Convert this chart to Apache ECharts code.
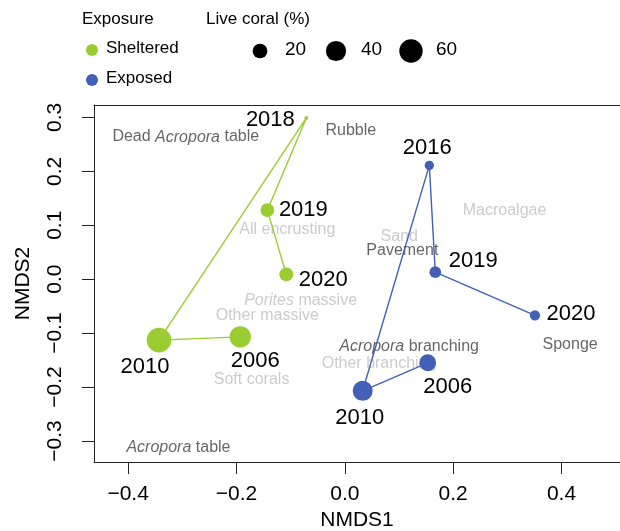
<!DOCTYPE html>
<html><head><meta charset="utf-8">
<script src="https://cdn.jsdelivr.net/npm/echarts@6/dist/echarts.min.js"></script>
<style>html,body{margin:0;padding:0;background:#fff}#c{width:620px;height:531px}</style>
</head><body><div id="c"></div>
<script>
// ---- data ----
const yearsSheltered = ['2006', '2010', '2018', '2019', '2020'];
const nmds1Sheltered = [-0.193, -0.343, -0.071, -0.143, -0.108];
const nmds2Sheltered = [-0.107, -0.113, 0.299, 0.128, 0.009];
const coralSheltered = [46, 71, 5, 17.5, 18];

const yearsExposed = ['2006', '2010', '2016', '2019', '2020'];
const nmds1Exposed = [0.153, 0.033, 0.156, 0.167, 0.351];
const nmds2Exposed = [-0.155, -0.207, 0.211, 0.013, -0.067];
const coralExposed = [26, 39, 10, 13.6, 11.4];

const speciesNames = ['Dead {i|Acropora} table', 'Rubble', 'All encrusting', 'Macroalgae', 'Sand', 'Pavement',
  '{i|Porites} massive', 'Other massive', 'Soft corals', '{i|Acropora} table', '{i|Acropora} branching',
  'Other branching', 'Sponge'];
const speciesX = [-0.2936, 0.0111, -0.1062, 0.2949, 0.1006, 0.1062, -0.0816, -0.1431, -0.1721, -0.3071, 0.1187, 0.0632, 0.4159];
const speciesY = [0.2635, 0.2759, 0.0926, 0.1278, 0.0783, 0.0537, -0.0389, -0.0667, -0.187, -0.3117, -0.1254, -0.1561, -0.1209];
const speciesSignificant = [true, true, false, false, false, true, false, false, false, true, true, false, true];

const xTicks = [-0.4, -0.2, 0.0, 0.2, 0.4];
const yTicks = [-0.3, -0.2, -0.1, 0.0, 0.1, 0.2, 0.3];
const sizeLegendValues = [20, 40, 60];
const exposureNames = ['Sheltered', 'Exposed'];

// ---- styles ----
const colSheltered = '#9ACD32';
const colExposed = '#4261B6';
const offsetsSheltered = [[15, 24], [-14, 27], [-36, 2], [36, 0], [37, 6]];
const offsetsExposed = [[20, 24], [-3, 27], [-2, -17], [38, -11], [36, -1]];
function sizeOf(p) { return Math.max(3, -8.9 + 7.89 * Math.log(p)); }
function fmtTick(v) { return (v < 0 ? '\u2212' : '') + Math.abs(v).toFixed(1); }
const font = 'Liberation Sans, Arial, sans-serif';

function makeSeries(name, xs, ys, cs, yrs, col, offs) {
  return {
    type: 'line', name: name, symbol: 'circle', showSymbol: true, animation: false,
    lineStyle: { color: col, width: 1.4 }, itemStyle: { color: col },
    data: xs.map((x, i) => ({
      value: [x, ys[i], cs[i]], symbolSize: sizeOf(cs[i]),
      label: { show: true, position: 'inside', offset: offs[i], formatter: yrs[i],
        fontSize: 22, color: '#000', fontFamily: font, align: 'center', verticalAlign: 'middle' }
    })),
    z: 3
  };
}

const speciesSeries = {
  type: 'scatter', symbolSize: 0, silent: true, animation: false, z: 2,
  data: speciesX.map((x, i) => {
    const c = speciesSignificant[i] ? '#3F3F3F' : '#BEBEBE';
    return {
      value: [x, speciesY[i]],
      label: { show: true, position: 'inside', formatter: speciesNames[i], color: c, fontSize: 16,
        fontFamily: font, align: 'center', verticalAlign: 'middle',
        rich: { i: { fontStyle: 'italic', color: c, fontSize: 16, fontFamily: font } } }
    };
  })
};

const legendGraphics = [
  { type: 'text', left: 82, top: 11, style: { text: 'Exposure', font: '17px ' + font, fill: '#000' } },
  { type: 'circle', shape: { cx: 92, cy: 50, r: 6 }, style: { fill: colSheltered } },
  { type: 'text', left: 106, top: 40, style: { text: exposureNames[0], font: '17px ' + font, fill: '#000' } },
  { type: 'circle', shape: { cx: 92, cy: 80, r: 6 }, style: { fill: colExposed } },
  { type: 'text', left: 106, top: 70, style: { text: exposureNames[1], font: '17px ' + font, fill: '#000' } },
  { type: 'text', left: 206, top: 11, style: { text: 'Live coral (%)', font: '17px ' + font, fill: '#000' } }
];
const sizeCenters = [260, 336, 411];
sizeLegendValues.forEach((v, i) => {
  legendGraphics.push({ type: 'circle', shape: { cx: sizeCenters[i], cy: 51, r: sizeOf(v) / 2 }, style: { fill: '#000' } });
  legendGraphics.push({ type: 'text', left: sizeCenters[i] + 25, top: 40, style: { text: String(v), font: '19px ' + font, fill: '#000' } });
});

const axisLine = { show: true, onZero: false, lineStyle: { color: '#222', width: 1 } };
const option = {
  backgroundColor: '#fff',
  animation: false,
  grid: { left: 94, top: 105, right: 0, bottom: 69, containLabel: false, outerBoundsMode: 'none' },
  xAxis: [{
    type: 'value', min: -0.463, max: 0.508, position: 'bottom',
    name: 'NMDS1', nameLocation: 'middle', nameGap: 48,
    nameTextStyle: { fontSize: 21, color: '#000', fontFamily: font },
    axisLine: axisLine, splitLine: { show: false },
    axisTick: { show: true, length: 12, customValues: xTicks, lineStyle: { color: '#222' } },
    axisLabel: { customValues: xTicks, formatter: fmtTick, fontSize: 21, color: '#000', margin: 22, fontFamily: font }
  }, {
    type: 'value', min: -0.463, max: 0.508, position: 'top',
    axisLine: axisLine, axisTick: { show: false }, axisLabel: { show: false }, splitLine: { show: false }
  }],
  yAxis: [{
    type: 'value', min: -0.339, max: 0.323, position: 'left',
    name: 'NMDS2', nameLocation: 'middle', nameGap: 60, nameRotate: 90,
    nameTextStyle: { fontSize: 21, color: '#000', fontFamily: font },
    axisLine: axisLine, splitLine: { show: false },
    axisTick: { show: true, length: 12, customValues: yTicks, lineStyle: { color: '#222' } },
    axisLabel: { customValues: yTicks, formatter: fmtTick, fontSize: 21, color: '#000', margin: 28, rotate: 90, fontFamily: font }
  }],
  graphic: legendGraphics,
  series: [
    speciesSeries,
    makeSeries('Sheltered', nmds1Sheltered, nmds2Sheltered, coralSheltered, yearsSheltered, colSheltered, offsetsSheltered),
    makeSeries('Exposed', nmds1Exposed, nmds2Exposed, coralExposed, yearsExposed, colExposed, offsetsExposed)
  ]
};
const chart = echarts.init(document.getElementById('c'), null, { renderer: 'canvas' });
chart.setOption(option);
</script></body></html>
